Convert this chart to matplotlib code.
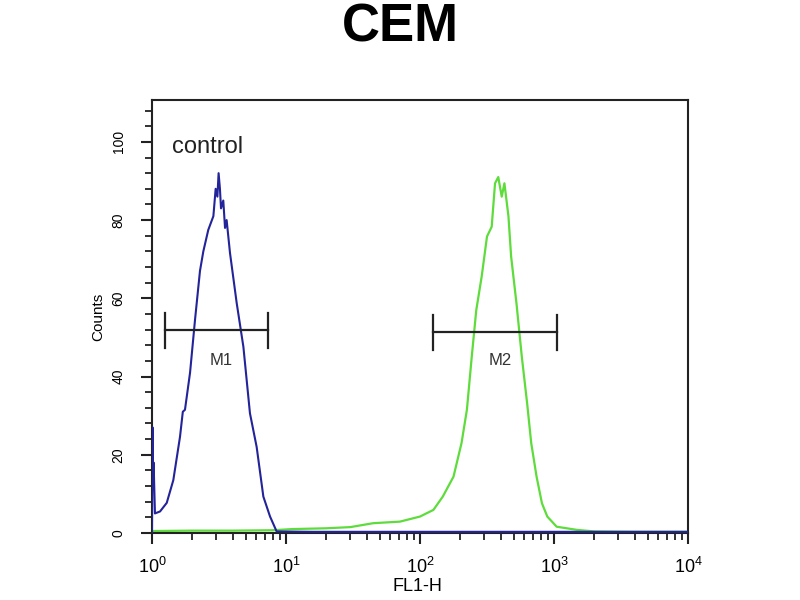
import numpy as np
import matplotlib
matplotlib.use("Agg")
import matplotlib.pyplot as plt
from matplotlib.ticker import FixedLocator, MultipleLocator

plt.rcParams['font.family'] = ['Liberation Sans', 'DejaVu Sans']
plt.rcParams['mathtext.default'] = 'regular'

# control histogram (blue), x in decades of FL1-H, y in counts
ctrl_dec = [0.0, 0.004, 0.008, 0.012, 0.022, 0.06, 0.11, 0.159, 0.209, 0.23, 0.246, 0.284, 0.321,
            0.358, 0.383, 0.42, 0.458, 0.475, 0.488, 0.497, 0.507, 0.515, 0.532, 0.545, 0.557,
            0.582, 0.632, 0.682, 0.731, 0.781, 0.831, 0.881, 0.93, 1.2, 1.6, 2.0, 2.5, 3.0,
            3.5, 4.0]
ctrl_cnt = [0, 27, 12, 18, 5, 5.5, 7.7, 13.5, 24.6, 31, 31.5, 41, 54.5,
            67, 72, 77.5, 81, 88, 86, 92, 88, 83, 85, 78, 80,
            71.6, 58.8, 47.6, 30.6, 22, 9.3, 4.2, 0.4, 0.3, 0.3, 0.3, 0.3, 0.3,
            0.3, 0.3]

# stained sample histogram (green)
samp_dec = [0.0, 0.3, 0.6, 0.9, 1.05, 1.3, 1.48, 1.65, 1.85, 2.0, 2.1, 2.17, 2.25, 2.31,
            2.35, 2.386, 2.42, 2.46, 2.5, 2.535, 2.56, 2.584, 2.61, 2.63, 2.66, 2.68,
            2.72, 2.76, 2.8, 2.83, 2.87, 2.91, 2.95, 3.02, 3.17, 3.3, 3.6, 4.0]
samp_cnt = [0.5, 0.6, 0.6, 0.7, 1.0, 1.2, 1.5, 2.5, 2.9, 4.2, 5.9, 9.3, 14.4, 23,
            31.5, 45, 57, 65.5, 75.8, 78.3, 89.4, 91, 86, 89.4, 81, 70.7,
            58.7, 45, 33, 23, 14.4, 7.6, 4.2, 1.6, 0.8, 0.4, 0.3, 0.3]

# marker gates
gate_names = ['M1', 'M2']
gate_lo = [10**0.097, 10**2.10]
gate_hi = [10**0.868, 10**3.02]
gate_y = [52, 51.5]
gate_label_x = [10**0.52, 10**2.60]

xtick_vals = [1, 10, 100, 1000, 10000]
xtick_text = [r'$10^{0}$', r'$10^{1}$', r'$10^{2}$', r'$10^{3}$', r'$10^{4}$']
ytick_vals = [0, 20, 40, 60, 80, 100]

fig = plt.figure(figsize=(8, 6), dpi=100)
ax = fig.add_axes([0.19, 0.1117, 0.67, 0.7216])

ax.plot(10**np.array(ctrl_dec), ctrl_cnt, color='#23239a', lw=1.5, zorder=3)
ax.plot(10**np.array(samp_dec), samp_cnt, color='#5edc3c', lw=1.6, zorder=2)

for name, lo, hi, yv, lx in zip(gate_names, gate_lo, gate_hi, gate_y, gate_label_x):
    ax.plot([lo, hi], [yv, yv], color='#222222', lw=1.6, zorder=4)
    ax.plot([lo, lo], [yv - 4.7, yv + 4.2], color='#222222', lw=1.6, zorder=4)
    ax.plot([hi, hi], [yv - 4.7, yv + 4.2], color='#222222', lw=1.6, zorder=4)
    ax.text(lx, 44, name, fontsize=12, ha='center', va='center', color='#333333')

ax.text(0.037, 0.878, 'control', transform=ax.transAxes, fontsize=17,
        ha='left', va='baseline', color='#222222')

ax.set_xscale('log')
ax.set_xlim(1, 10000)
ax.set_ylim(0, 110.7)

ax.xaxis.set_major_locator(FixedLocator(xtick_vals))
ax.set_xticklabels(xtick_text, fontsize=13)
ax.yaxis.set_major_locator(FixedLocator(ytick_vals))
ax.yaxis.set_minor_locator(MultipleLocator(4))
ax.set_yticklabels([str(v) for v in ytick_vals], fontsize=10, rotation=90, va='center')

ax.tick_params(axis='both', which='major', direction='out', length=8, width=1.5, color='#222222')
ax.tick_params(axis='both', which='minor', direction='out', length=5, width=1.3, color='#222222')
ax.tick_params(axis='y', which='major', pad=11)
ax.tick_params(axis='x', which='major', pad=9)

for s in ax.spines.values():
    s.set_linewidth(1.5)
    s.set_color('#222222')

ax.set_ylabel('Counts', fontsize=11)
ax.yaxis.set_label_coords(-0.088, 0.5)
ax.set_xlabel('FL1-H', fontsize=13)
ax.xaxis.set_label_coords(0.496, -0.104)

fig.text(0.5, 0.955, 'CEM', fontsize=38, fontweight='bold', ha='center', va='center')

fig.savefig('out.png', dpi=100, facecolor='white')
